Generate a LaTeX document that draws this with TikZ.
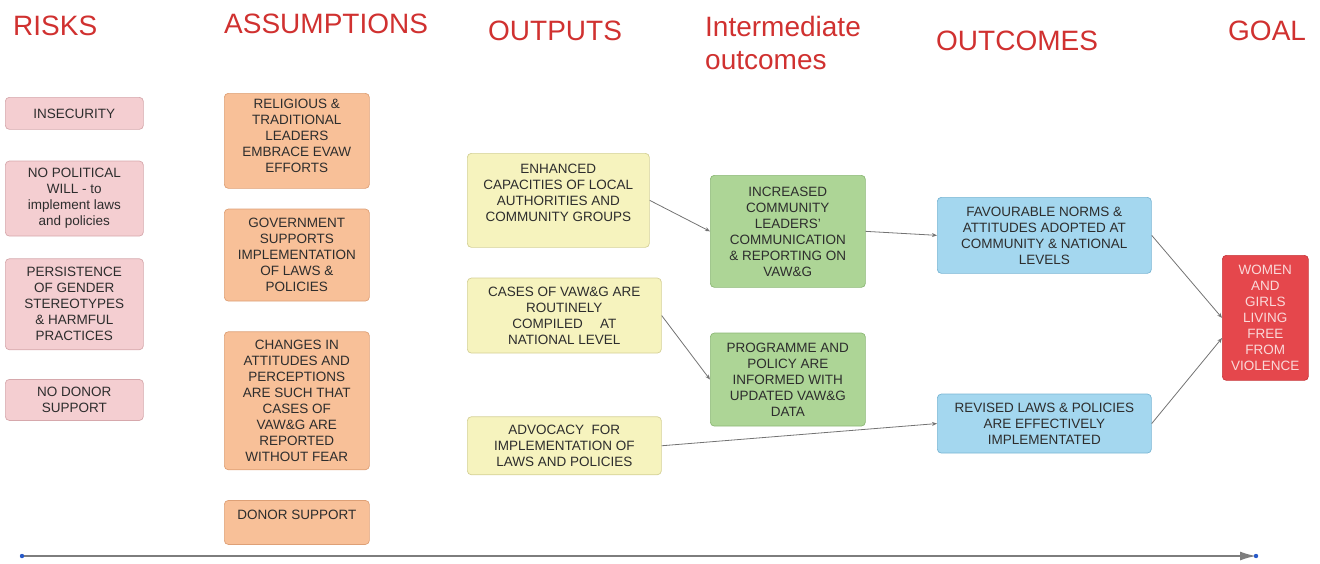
\documentclass[tikz,border=0pt]{standalone}
\usepackage{fontspec}
\setmainfont{Liberation Sans}
\usepackage[dvipsnames,rgb]{xcolor}
\usetikzlibrary{positioning,arrows.meta}

\definecolor{headred}{RGB}{208,49,48}
\definecolor{boxtext}{RGB}{45,45,45}
\definecolor{riskfill}{RGB}{244,206,209}
\definecolor{riskline}{RGB}{214,168,172}
\definecolor{assumfill}{RGB}{248,192,152}
\definecolor{assumline}{RGB}{222,160,118}
\definecolor{outfill}{RGB}{246,243,190}
\definecolor{outline}{RGB}{212,208,150}
\definecolor{interfill}{RGB}{173,213,150}
\definecolor{interline}{RGB}{140,184,118}
\definecolor{outcomefill}{RGB}{164,215,239}
\definecolor{outcomeline}{RGB}{122,182,212}
\definecolor{goalfill}{RGB}{229,71,76}
\definecolor{goalline}{RGB}{200,58,62}
\definecolor{goaltext}{RGB}{250,217,217}
\definecolor{linkgray}{RGB}{115,115,115}
\definecolor{axisgray}{RGB}{125,125,125}
\definecolor{dotblue}{RGB}{40,90,200}

\begin{document}
\begin{tikzpicture}[x=1pt, y=-1pt,
        heading/.style={anchor=base west, inner sep=0pt, text=headred,
            font=\fontsize{28}{33}\selectfont},
        box/.style={draw, rounded corners=4pt, align=center, line width=0.7pt,
            text=boxtext, font=\fontsize{13.5}{16}\selectfont,
            inner sep=2pt, anchor=north west},
        riskbox/.style={box, fill=riskfill, draw=riskline, minimum width=138pt},
        assumbox/.style={box, fill=assumfill, draw=assumline, minimum width=145pt},
        outbox/.style={box, fill=outfill, draw=outline, minimum width=194pt},
        interbox/.style={box, fill=interfill, draw=interline, minimum width=155pt},
        outcomebox/.style={box, fill=outcomefill, draw=outcomeline, minimum width=214pt},
        goalbox/.style={box, fill=goalfill, draw=goalline, minimum width=86pt, text=goaltext},
        link/.style={->, >={Stealth[length=5pt,width=4pt]}, draw=linkgray, line width=0.8pt},
        timeline/.style={-{Latex[length=16pt,width=9pt]}, draw=axisgray, line width=1.6pt}
    ]
        \useasboundingbox (0,0) rectangle (1320,563);

        \node[heading] (risks) at (13,35) {RISKS};
        \node[heading] (assumptions) at (224,33) {ASSUMPTIONS};
        \node[heading] (outputs) at (488,40) {OUTPUTS};
        \node[heading, anchor=north west, align=left] (intermediate) at (705,16.5)
            {Intermediate\\outcomes};
        \node[heading] (outcomes) at (936,50) {OUTCOMES};
        \node[heading] (goalhead) at (1228,40) {GOAL};

        \node[riskbox, minimum height=32pt] (insecurity) at (5,97) {INSECURITY};
        \node[riskbox, minimum height=75pt, below=31pt of insecurity] (polwill)
            {NO POLITICAL\\WILL - to\\implement laws\\and policies};
        \node[riskbox, minimum height=91pt, below=22pt of polwill] (persistence)
            {PERSISTENCE\\OF GENDER\\STEREOTYPES\\\& HARMFUL\\PRACTICES};
        \node[riskbox, minimum height=41pt, below=29pt of persistence] (nodonor)
            {NO DONOR\\SUPPORT};

        \node[assumbox, minimum height=95pt] (religious) at (224,93)
            {RELIGIOUS \&\\TRADITIONAL\\LEADERS\\EMBRACE EVAW\\EFFORTS\\[-6pt]\mbox{}};
        \node[assumbox, minimum height=92pt, below=20pt of religious] (government)
            {GOVERNMENT\\SUPPORTS\\IMPLEMENTATION\\OF LAWS \&\\POLICIES};
        \node[assumbox, minimum height=138pt, below=30pt of government] (changes)
            {CHANGES IN\\ATTITUDES AND\\PERCEPTIONS\\ARE SUCH THAT\\CASES OF\\VAW\&G ARE\\REPORTED\\WITHOUT FEAR};
        \node[assumbox, minimum height=44pt, below=30pt of changes] (donor)
            {DONOR SUPPORT\\\mbox{}};

        \node[outbox, minimum width=182pt, minimum height=94pt] (enhanced) at (467,153)
            {ENHANCED\\CAPACITIES OF LOCAL\\AUTHORITIES AND\\COMMUNITY GROUPS\\\mbox{}};
        \node[outbox, minimum height=75pt, below=30pt of enhanced.south west,
            anchor=north west] (cases)
            {CASES OF VAW\&G ARE\\ROUTINELY\\COMPILED \quad AT\\NATIONAL LEVEL};
        \node[outbox, minimum height=58pt, below=63pt of cases] (advocacy)
            {ADVOCACY \ FOR\\IMPLEMENTATION OF\\LAWS AND POLICIES};

        \node[interbox, minimum height=112pt] (increased) at (710,175)
            {INCREASED\\COMMUNITY\\LEADERS'\\COMMUNICATION\\\& REPORTING ON\\VAW\&G};
        \node[interbox, minimum height=93pt, below=45pt of increased] (programme)
            {PROGRAMME AND\\POLICY ARE\\INFORMED WITH\\UPDATED VAW\&G\\DATA};

        \node[outcomebox, minimum height=76pt] (favourable) at (937,197)
            {FAVOURABLE NORMS \&\\ATTITUDES ADOPTED AT\\COMMUNITY \& NATIONAL\\LEVELS};
        \node[outcomebox, minimum height=59pt, below=120pt of favourable] (revised)
            {REVISED LAWS \& POLICIES\\ARE EFFECTIVELY\\IMPLEMENTATED};

        \node[goalbox, minimum height=125pt] (goal) at (1222,255)
            {WOMEN\\AND\\GIRLS\\LIVING\\FREE\\FROM\\VIOLENCE};

        \draw[link] (enhanced.east) -- (increased.west);
        \draw[link] (cases.east) -- (programme.west);
        \draw[link] (increased.east) -- (favourable.west);
        \draw[link] (advocacy.east) -- (revised.west);
        \draw[link] (favourable.east) -- (goal.west);
        \draw[link] (revised.east) -- (goal.205);

        \coordinate (tstart) at (22,556);
        \coordinate (tend) at (1256,556);
        \draw[timeline] (tstart) -- (tend);
        \fill[dotblue] (tstart) circle (2.2pt) (tend) circle (2.2pt);
    \end{tikzpicture}
\end{document}
